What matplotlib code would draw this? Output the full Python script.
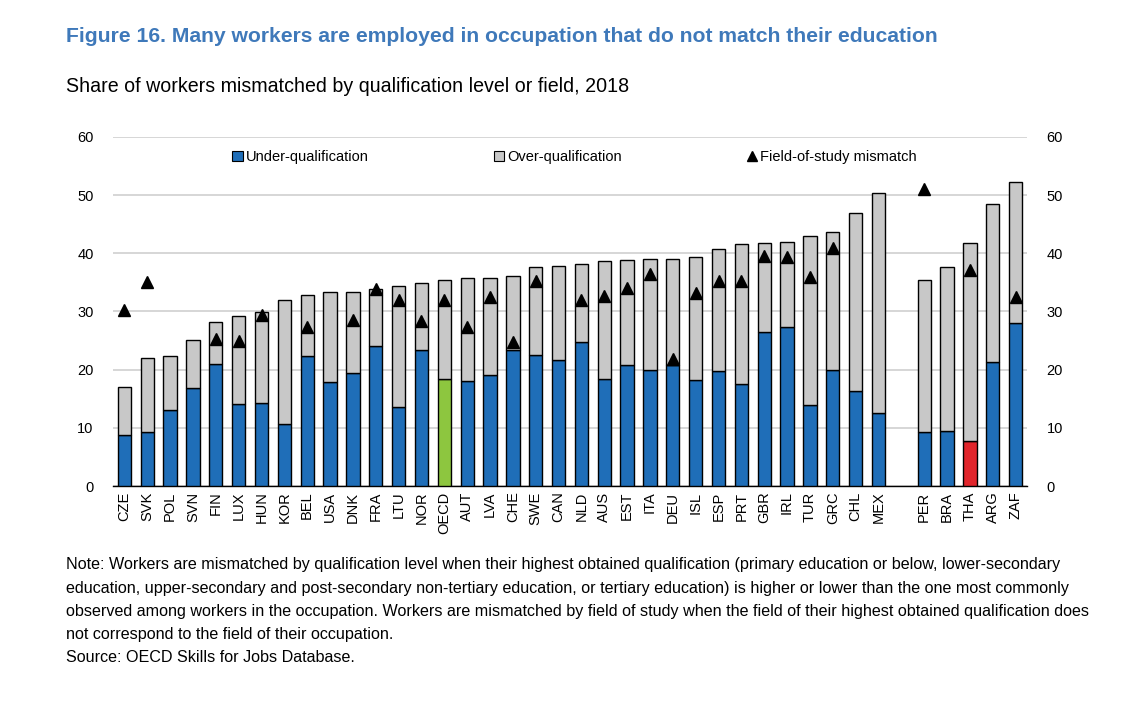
import matplotlib
matplotlib.use("Agg")
import matplotlib.pyplot as plt
import numpy as np
from matplotlib.patches import Patch
from matplotlib.lines import Line2D

plt.rcParams['font.family'] = ['Liberation Sans', 'DejaVu Sans']

countries = ["CZE","SVK","POL","SVN","FIN","LUX","HUN","KOR","BEL","USA","DNK","FRA","LTU","NOR",
             "OECD","AUT","LVA","CHE","SWE","CAN","NLD","AUS","EST","ITA","DEU","ISL","ESP","PRT",
             "GBR","IRL","TUR","GRC","CHL","MEX",
             "PER","BRA","THA","ARG","ZAF"]
under = [8.8, 9.3, 13.1, 16.8, 20.9, 14.1, 14.3, 10.6, 22.4, 17.8, 19.4, 24.0, 13.5, 23.4,
         18.4, 18.1, 19.0, 23.4, 22.5, 21.6, 24.8, 18.4, 20.8, 20.0, 20.8, 18.2, 19.8, 17.5,
         26.5, 27.3, 13.9, 19.9, 16.4, 12.6,
         9.2, 9.4, 7.8, 21.3, 28.0]
total = [17.0, 22.0, 22.4, 25.1, 28.2, 29.3, 29.9, 31.9, 32.9, 33.4, 33.4, 33.8, 34.4, 34.9,
         35.5, 35.7, 35.7, 36.1, 37.7, 37.8, 38.1, 38.6, 38.8, 39.0, 39.1, 39.4, 40.8, 41.6,
         41.7, 42.0, 43.0, 43.7, 47.0, 50.3,
         35.5, 37.6, 41.7, 48.4, 52.2]
field = [30.3, 35.1, None, None, 25.2, 25.0, 29.4, None, 27.4, None, 28.6, 33.8, 32.0, 28.4,
         31.9, 27.3, 32.5, 24.8, 35.3, None, 31.9, 32.6, 34.0, 36.4, 21.8, 33.2, 35.3, 35.2,
         39.5, 39.4, 35.9, 40.9, None, None,
         51.1, None, 37.2, None, 32.5]
over = [t - u for t, u in zip(total, under)]

# positions: gap of one slot between MEX and PER
pos = np.array(list(range(34)) + list(range(35, 40)), dtype=float)

BLUE = "#1F6EB8"
GREY = "#C8C8C8"
GREEN = "#8DC63F"
RED = "#E1252B"
under_colors = [GREEN if c == "OECD" else RED if c == "THA" else BLUE for c in countries]

fig = plt.figure(figsize=(11.42, 7.07), dpi=100)
ax = fig.add_axes([113/1142, 1 - 486/707, (1027-113)/1142, (486-137)/707])

w = 0.58
ax.bar(pos, under, width=w, color=under_colors, edgecolor="black", linewidth=1.0, zorder=3)
ax.bar(pos, over, bottom=under, width=w, color=GREY, edgecolor="black", linewidth=1.0, zorder=3)
fx = [p for p, f in zip(pos, field) if f is not None]
fy = [f for f in field if f is not None]
ax.plot(fx, fy, linestyle="none", marker="^", color="black", markersize=9, zorder=4)

ax.set_xlim(-0.5, 39.5)
ax.set_ylim(0, 60)
ax.set_yticks(range(0, 61, 10))
ax.yaxis.grid(True, color="#D0D0D0", linewidth=1.2, zorder=0)
ax.set_axisbelow(True)
for s in ["left", "right", "top"]:
    ax.spines[s].set_visible(False)
ax.spines["bottom"].set_color("black")
ax.spines["bottom"].set_linewidth(1.0)
ax.set_xticks(pos)
ax.set_xticklabels(countries, rotation=90, fontsize=10.5)
ax.tick_params(axis="both", length=0, labelsize=10.5, pad=4)
ax.tick_params(axis="y", pad=14)

ax2 = ax.twinx()
ax2.set_ylim(0, 60)
ax2.set_yticks(range(0, 61, 10))
for s in ["left", "right", "top", "bottom"]:
    ax2.spines[s].set_visible(False)
ax2.tick_params(axis="y", length=0, labelsize=10.5, pad=14)

handles = [Patch(facecolor=BLUE, edgecolor="black", linewidth=0.8),
           Patch(facecolor=GREY, edgecolor="black", linewidth=0.8),
           Line2D([], [], linestyle="none", marker="^", color="black", markersize=7)]
labels = ["Under-qualification", "Over-qualification", "Field-of-study mismatch"]
leg = ax.legend(handles, labels, ncol=3, loc="upper center", bbox_to_anchor=(0.505, 1.0),
                frameon=False, fontsize=10.5, handlelength=0.7, handleheight=0.7,
                handletextpad=0.2, columnspacing=8.6)

fig.text(66/1142, 1 - 37/707, "Figure 16. Many workers are employed in occupation that do not match their education",
         fontsize=15.25, fontweight="bold", color="#3F79BA", va="center", ha="left")
fig.text(66/1142, 1 - 87/707, "Share of workers mismatched by qualification level or field, 2018",
         fontsize=14.1, color="black", va="center", ha="left")

notes = ["Note: Workers are mismatched by qualification level when their highest obtained qualification (primary education or below, lower-secondary",
         "education, upper-secondary and post-secondary non-tertiary education, or tertiary education) is higher or lower than the one most commonly",
         "observed among workers in the occupation. Workers are mismatched by field of study when the field of their highest obtained qualification does",
         "not correspond to the field of their occupation.",
         "Source: OECD Skills for Jobs Database."]
for i, line in enumerate(notes):
    fig.text(66/1142, 1 - (565 + i*23.2)/707, line, fontsize=11.65, color="black", va="center", ha="left")

fig.savefig("out.png", dpi=100)
